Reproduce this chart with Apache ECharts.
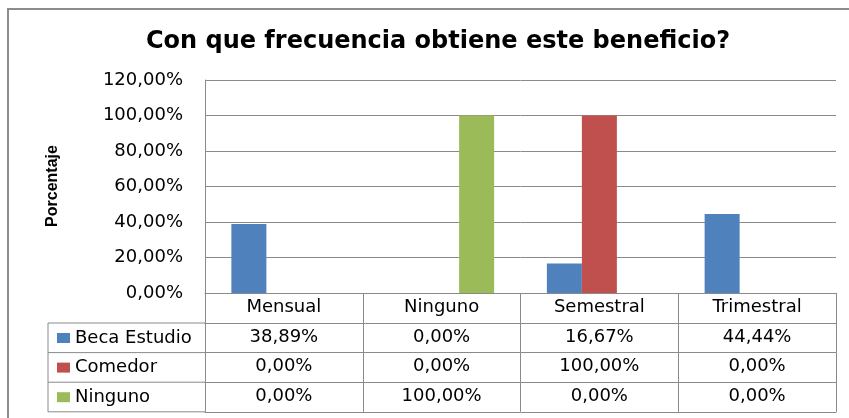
<!DOCTYPE html>
<html>
<head>
<meta charset="utf-8">
<script src="https://cdn.jsdelivr.net/npm/echarts@6/dist/echarts.min.js"></script>
<style>
  html, body { margin: 0; padding: 0; background: #fff; }
  #chart { width: 849px; height: 418px; }
</style>
</head>
<body>
<div id="chart"></div>
<script>
// ---- data ----
const titleText = 'Con que frecuencia obtiene este beneficio?';
const yAxisTitle = 'Porcentaje';
const categories = ['Mensual', 'Ninguno', 'Semestral', 'Trimestral'];
const seriesNames = ['Beca Estudio', 'Comedor', 'Ninguno'];
const becaEstudio = [38.89, 0, 16.67, 44.44];
const comedor = [0, 0, 100, 0];
const ninguno = [0, 100, 0, 0];
const yMin = 0, yMax = 120, yStep = 20;

// ---- styling / layout ----
const colors = ['#4F81BD', '#C0504D', '#9BBB59'];
const lineColor = '#8a8a8a';
const FONT = 'DejaVu Sans';
const FS = 18;
const gridLeft = 205, gridRight = 13, gridTop = 80, gridBottom = 125;
const plotBottom = 418 - gridBottom;
const headerH = 30, rowH = 29.6;
const tableLeft = 48;

const seriesValues = [becaEstudio, comedor, ninguno];
const fmt = v => v.toFixed(2).replace('.', ',') + '%';

const xAxes = [{
  type: 'category', data: categories, position: 'bottom',
  axisLine: { show: true, lineStyle: { color: lineColor, width: 1 } },
  axisTick: { show: true, length: headerH, lineStyle: { color: lineColor } },
  axisLabel: { interval: 0, margin: 5, fontFamily: FONT, fontSize: FS, color: '#000' }
}];
seriesValues.forEach((vals, k) => {
  xAxes.push({
    type: 'category', data: categories, position: 'bottom',
    offset: headerH + rowH * k,
    axisLine: { show: true, lineStyle: { color: lineColor, width: 1 } },
    axisTick: { show: true, length: rowH, lineStyle: { color: lineColor } },
    axisLabel: { interval: 0, margin: 5, fontFamily: FONT, fontSize: FS, color: '#000',
      formatter: (v, i) => fmt(vals[i]) }
  });
});
xAxes.push({
  type: 'category', data: categories, position: 'bottom',
  offset: headerH + rowH * seriesValues.length,
  axisLine: { show: true, lineStyle: { color: lineColor, width: 1 } },
  axisTick: { show: false }, axisLabel: { show: false }
});

// table left column lines
const tableGraphics = [];
const firstRowY = plotBottom + headerH;
const lastRowY = firstRowY + rowH * seriesValues.length;
tableGraphics.push({ type: 'line', silent: true,
  shape: { x1: tableLeft, y1: firstRowY, x2: tableLeft, y2: lastRowY },
  style: { stroke: lineColor, lineWidth: 1 } });
for (let k = 0; k <= seriesValues.length; k++) {
  const y = firstRowY + rowH * k;
  tableGraphics.push({ type: 'line', silent: true,
    shape: { x1: tableLeft, y1: y, x2: gridLeft, y2: y },
    style: { stroke: lineColor, lineWidth: 1 } });
}

const chart = echarts.init(document.getElementById('chart'), null, { renderer: 'canvas' });
chart.setOption({
  animation: false,
  backgroundColor: '#fff',
  title: {
    text: titleText, left: 433, top: 25, textAlign: 'center',
    textStyle: { fontFamily: FONT, fontWeight: 'bold', fontSize: 24, color: '#000' }
  },
  legend: {
    orient: 'vertical', left: 57, top: firstRowY + 5, padding: 0,
    itemWidth: 13, itemHeight: 10, itemGap: rowH - 20,
    icon: 'rect', data: seriesNames, selectedMode: false,
    itemStyle: { borderWidth: 0 },
    textStyle: { fontFamily: FONT, fontSize: FS, color: '#000', lineHeight: 20 }
  },
  grid: { left: gridLeft, right: gridRight, top: gridTop, bottom: gridBottom },
  xAxis: xAxes,
  yAxis: {
    type: 'value', min: yMin, max: yMax, interval: yStep,
    axisLine: { show: true, lineStyle: { color: lineColor } },
    axisTick: { show: false },
    splitLine: { show: true, lineStyle: { color: lineColor, width: 1 } },
    axisLabel: { margin: 22, fontFamily: FONT, fontSize: FS, color: '#000', formatter: v => fmt(v) }
  },
  series: seriesNames.map((name, k) => ({
    name, type: 'bar', data: seriesValues[k], xAxisIndex: 0,
    barWidth: 35, barGap: '0%',
    itemStyle: { color: colors[k], borderWidth: 0 }
  })),
  graphic: [
    { type: 'rect', silent: true, shape: { x: 8, y: 9, width: 900, height: 500 },
      style: { fill: 'none', stroke: '#8c8c8c', lineWidth: 2 } },
    { type: 'text', silent: true, x: 53, y: 186, rotation: Math.PI / 2,
      style: { text: yAxisTitle, fontFamily: 'Liberation Sans', fontWeight: 'bold', fontSize: 16,
        fill: '#000', align: 'center', verticalAlign: 'middle' } },
    ...tableGraphics
  ]
});
</script>
</body>
</html>
